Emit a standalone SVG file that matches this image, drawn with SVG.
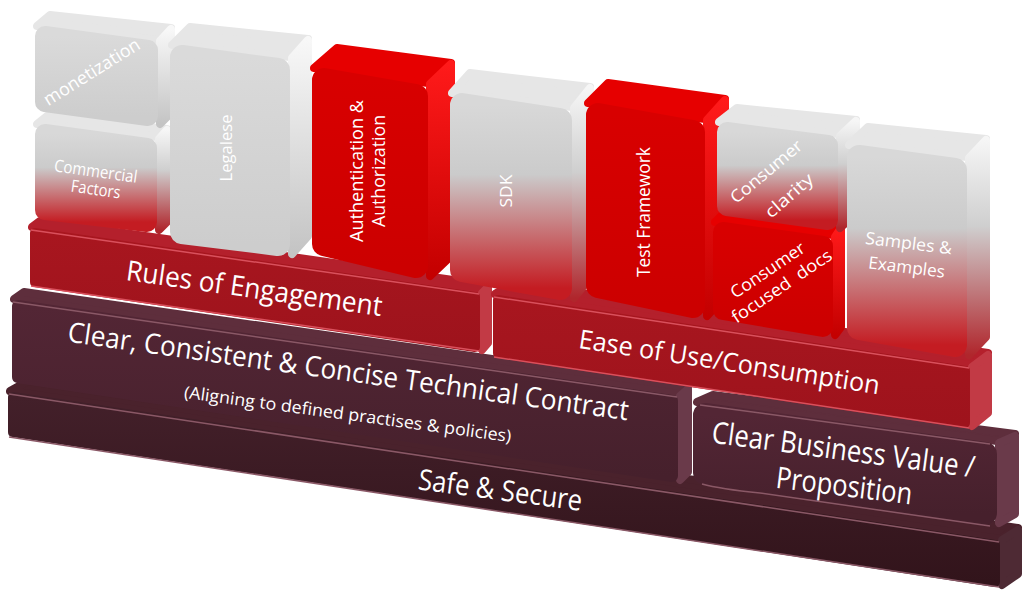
<svg xmlns="http://www.w3.org/2000/svg" width="1023" height="595" viewBox="0 0 1023 595">
<defs>
<linearGradient id="gPlain" x1="0" y1="0" x2="0" y2="1"><stop offset="0" stop-color="#dadada"/><stop offset="1" stop-color="#cdcdcd"/></linearGradient>
<linearGradient id="gPlainSide" x1="0" y1="0" x2="0" y2="1"><stop offset="0" stop-color="#f8f8f8"/><stop offset="1" stop-color="#c4c4c4"/></linearGradient>
<linearGradient id="gFade" x1="0" y1="0" x2="0" y2="1"><stop offset="0" stop-color="#d8d8d8"/><stop offset="0.38" stop-color="#cbcbcb"/><stop offset="1" stop-color="#c41c22"/></linearGradient>
<linearGradient id="gFadeSide" x1="0" y1="0" x2="0" y2="1"><stop offset="0" stop-color="#f6f6f6"/><stop offset="0.4" stop-color="#cfcfcf"/><stop offset="1" stop-color="#b0262c"/></linearGradient>
<linearGradient id="gRed" x1="0" y1="0" x2="0" y2="1"><stop offset="0" stop-color="#d80000"/><stop offset="1" stop-color="#cc0000"/></linearGradient>
<linearGradient id="gRedSide" x1="0" y1="0" x2="0" y2="1"><stop offset="0" stop-color="#ff1a1a"/><stop offset="1" stop-color="#c40000"/></linearGradient>
<linearGradient id="gSlabRed" x1="0" y1="0" x2="0" y2="1"><stop offset="0" stop-color="#a8161f"/><stop offset="1" stop-color="#9e131c"/></linearGradient>
<linearGradient id="gSlabMid" x1="0" y1="0" x2="0" y2="1"><stop offset="0" stop-color="#532635"/><stop offset="1" stop-color="#46202c"/></linearGradient>
<linearGradient id="gSlabLow" x1="0" y1="0" x2="0" y2="1"><stop offset="0" stop-color="#43202a"/><stop offset="1" stop-color="#32141b"/></linearGradient>
<style>
.txt{fill:#ffffff;font-family:"Open Sans","Liberation Sans",sans-serif}
.r4{stroke-linejoin:round;stroke-width:8}
.r10{stroke-linejoin:round;stroke-width:20}
.r12{stroke-linejoin:round;stroke-width:24}
.pT{fill:#e6e6e6;stroke:#e6e6e6}
.pS{fill:url(#gPlainSide);stroke:url(#gPlainSide)}
.pF{fill:url(#gPlain);stroke:url(#gPlain)}
.fS{fill:url(#gFadeSide);stroke:url(#gFadeSide)}
.fF{fill:url(#gFade);stroke:url(#gFade)}
.rT{fill:#e60000;stroke:#e60000}
.rS{fill:url(#gRedSide);stroke:url(#gRedSide)}
.rF{fill:url(#gRed);stroke:url(#gRed)}
.sRT{fill:#b4202c;stroke:#b4202c}
.sRS{fill:#c23a45;stroke:#c23a45}
.sRF{fill:url(#gSlabRed);stroke:url(#gSlabRed)}
.sMT{fill:#5e2e3c;stroke:#5e2e3c}
.sMS{fill:#6a3a4a;stroke:#6a3a4a}
.sMF{fill:url(#gSlabMid);stroke:url(#gSlabMid)}
.sLT{fill:#4a222c;stroke:#4a222c}
.sLS{fill:#4e2a34;stroke:#4e2a34}
.sLF{fill:url(#gSlabLow);stroke:url(#gSlabLow)}
.edgeR{stroke:#d9505c;stroke-width:1.5;fill:none}
.edgeM{stroke:#8a5866;stroke-width:1.5;fill:none}
</style>
</defs>
<rect width="1023" height="595" fill="#ffffff"/>

<g id="safe-secure">
<polygon class="sLT r4" points="10,391 28,381 1018,528 1000,539"/>
<polygon class="sLS r4" points="1002,540 1018,530 1018,574 1002,585"/>
<polygon class="sLF" stroke-width="10" stroke-linejoin="round" points="13,397 995,545 995,582 13,432"/>
<polyline class="edgeM" points="9,394 999,542"/>
<polyline class="edgeM" points="9,437 999,587" stroke="#5a2e38"/>
<text class="txt" x="499" y="500" font-size="29" text-anchor="middle" textLength="165" lengthAdjust="spacingAndGlyphs" transform="rotate(7.5 499 500)">Safe &amp; Secure</text>
</g>

<g id="clear-contract">
<polygon class="sMT r4" points="14,299 24,292 688,387 678,394"/>
<polygon class="sMS r4" points="680,396 688,389 688,472 680,480"/>
<polygon class="sMF" stroke-width="12" stroke-linejoin="round" points="18,306 672,401 672,476 18,377"/>
<polyline class="edgeM" points="13,302 677,397"/>
<text class="txt" x="347" y="381" font-size="28" text-anchor="middle" textLength="566" lengthAdjust="spacingAndGlyphs" transform="rotate(8 347 381)">Clear, Consistent &amp; Concise Technical Contract</text>
<text class="txt" x="347" y="420" font-size="17" text-anchor="middle" textLength="330" lengthAdjust="spacingAndGlyphs" transform="rotate(7.7 347 420)">(Aligning to defined practises &amp; policies)</text>
</g>

<g id="business-value">
<polygon class="sMT r4" points="697,402 713,395 1015,434 997,441"/>
<polygon class="sMS r4" points="999,443 1015,436 1015,514 999,523"/>
<polygon class="sMF r12" points="705,415 985,454 985,513 705,473"/>
<path class="edgeM" d="M700,405 L990,444"/>
<path class="edgeM" d="M702,484 Q720,489 760,493 L990,526"/>
<text class="txt" x="842" y="460" font-size="30" text-anchor="middle" textLength="265" lengthAdjust="spacingAndGlyphs" transform="rotate(7.6 842 460)">Clear Business Value /</text>
<text class="txt" x="843" y="496" font-size="30" text-anchor="middle" textLength="137" lengthAdjust="spacingAndGlyphs" transform="rotate(7 843 496)">Proposition</text>
</g>

<g id="rules-engagement">
<polygon class="sRT r4" points="32,227 40,221 488,285 480,291"/>
<polygon class="sRS r4" points="482,293 488,287 488,343 482,350"/>
<polygon class="sRF" stroke-width="10" stroke-linejoin="round" points="35,233 475,297 475,347 35,282"/>
<polyline class="edgeR" points="31,230 479,294"/>
<polyline class="edgeR" points="31,286 479,351"/>
<text class="txt" x="253" y="298" font-size="28" text-anchor="middle" textLength="258" lengthAdjust="spacingAndGlyphs" transform="rotate(8 253 298)">Rules of Engagement</text>
</g>

<g id="ease-of-use">
<polygon class="sRT r4" points="495,294 513,283 988,353 970,365"/>
<polygon class="sRS r4" points="972,367 988,355 988,413 972,426"/>
<polygon class="sRF" stroke-width="10" stroke-linejoin="round" points="498,300 965,371 965,423 498,353"/>
<polyline class="edgeR" points="494,297 969,368"/>
<polyline class="edgeR" points="494,357 969,428"/>
<text class="txt" x="728" y="371" font-size="26" text-anchor="middle" textLength="304" lengthAdjust="spacingAndGlyphs" transform="rotate(8.8 728 371)">Ease of Use/Consumption</text>
</g>

<g id="commercial-factors">
<polygon class="pT r4" points="37,124 47,116 167,129 157,137"/>
<polygon class="fS r4" points="159,139 167,130 167,222 159,230"/>
<polygon class="fF r10" points="45,134 147,148 147,222 45,210"/>
<text class="txt" x="95" y="177" font-size="17" text-anchor="middle" textLength="84" lengthAdjust="spacingAndGlyphs" transform="rotate(8 95 177)">Commercial</text>
<text class="txt" x="95" y="195" font-size="17" text-anchor="middle" textLength="50" lengthAdjust="spacingAndGlyphs" transform="rotate(8 95 195)">Factors</text>
</g>

<g id="monetization">
<polygon class="pT r4" points="37,26 50,15 171,28 158,40"/>
<polygon class="pS r4" points="160,41 171,29 171,113 160,124"/>
<polygon class="pF r10" points="45,36 148,50 148,116 45,102"/>
<text class="txt" x="95" y="77" font-size="18" text-anchor="middle" textLength="110" lengthAdjust="spacingAndGlyphs" transform="rotate(-32 95 77)">monetization</text>
</g>

<g id="legalese">
<polygon class="pT r4" points="172,45 190,27 308,39 290,57"/>
<polygon class="pS r4" points="292,58 308,40 308,236 292,254"/>
<polygon class="pF r12" points="182,57 278,70 278,244 182,232"/>
<text class="txt" x="232" y="148" font-size="17" text-anchor="middle" textLength="67" lengthAdjust="spacingAndGlyphs" transform="rotate(-90 232 148)">Legalese</text>
</g>

<g id="authentication">
<polygon class="rT r4" points="314,68 337,48 451,63 428,83"/>
<polygon class="rS r4" points="430,84 451,64 451,256 430,276"/>
<polygon class="rF r12" points="324,80 416,96 416,266 324,244"/>
<text class="txt" x="363" y="171" font-size="18" text-anchor="middle" textLength="142" lengthAdjust="spacingAndGlyphs" transform="rotate(-90 363 171)">Authentication &amp;</text>
<text class="txt" x="385" y="171" font-size="18" text-anchor="middle" textLength="112" lengthAdjust="spacingAndGlyphs" transform="rotate(-90 385 171)">Authorization</text>
</g>

<g id="sdk">
<polygon class="pT r4" points="452,93 470,73 590,87 572,107"/>
<polygon class="fS r4" points="574,108 590,88 590,278 574,298"/>
<polygon class="fF r12" points="462,105 560,120 560,288 462,270"/>
<text class="txt" x="512" y="191" font-size="17" text-anchor="middle" textLength="33" lengthAdjust="spacingAndGlyphs" transform="rotate(-90 512 191)">SDK</text>
</g>

<g id="test-framework">
<polygon class="rT r4" points="588,103 608,83 725,99 705,119"/>
<polygon class="rS r4" points="707,120 725,100 725,296 707,316"/>
<polygon class="rF r12" points="598,115 693,132 693,306 598,286"/>
<text class="txt" x="650" y="212" font-size="18" text-anchor="middle" textLength="130" lengthAdjust="spacingAndGlyphs" transform="rotate(-90 650 212)">Test Framework</text>
</g>

<g id="consumer-focused-docs">
<polygon class="rT r4" points="715,222 723,214 841,227 833,235"/>
<polygon class="rS r4" points="835,237 841,228 841,327 835,335"/>
<polygon class="rF r10" points="723,232 823,246 823,327 723,310"/>
<text class="txt" x="771" y="275" font-size="17" text-anchor="middle" textLength="86" lengthAdjust="spacingAndGlyphs" transform="rotate(-34 771 275)">Consumer</text>
<text class="txt" x="785" y="291" font-size="17" text-anchor="middle" textLength="117" lengthAdjust="spacingAndGlyphs" xml:space="preserve" style="white-space:pre" transform="rotate(-34 785 291)">focused  docs</text>
</g>

<g id="consumer-clarity">
<polygon class="pT r4" points="719,122 737,108 856,120 838,134"/>
<polygon class="fS r4" points="840,136 856,121 856,214 840,228"/>
<polygon class="fF r10" points="727,132 828,145 828,220 727,206"/>
<text class="txt" x="770" y="176" font-size="17" text-anchor="middle" textLength="88" lengthAdjust="spacingAndGlyphs" transform="rotate(-40 770 176)">Consumer</text>
<text class="txt" x="793" y="200" font-size="17" text-anchor="middle" textLength="58" lengthAdjust="spacingAndGlyphs" transform="rotate(-41 793 200)">clarity</text>
</g>

<g id="samples-examples">
<polygon class="pT r4" points="849,145 868,127 986,139 967,157"/>
<polygon class="fS r4" points="969,158 986,140 986,337 969,355"/>
<polygon class="fF r12" points="859,157 955,170 955,345 859,328"/>
<text class="txt" x="908" y="249" font-size="17" text-anchor="middle" textLength="87" lengthAdjust="spacingAndGlyphs" transform="rotate(7 908 249)">Samples &amp;</text>
<text class="txt" x="906" y="273" font-size="17" text-anchor="middle" textLength="77" lengthAdjust="spacingAndGlyphs" transform="rotate(7 906 273)">Examples</text>
</g>

<g id="connectors"></g>
</svg>
